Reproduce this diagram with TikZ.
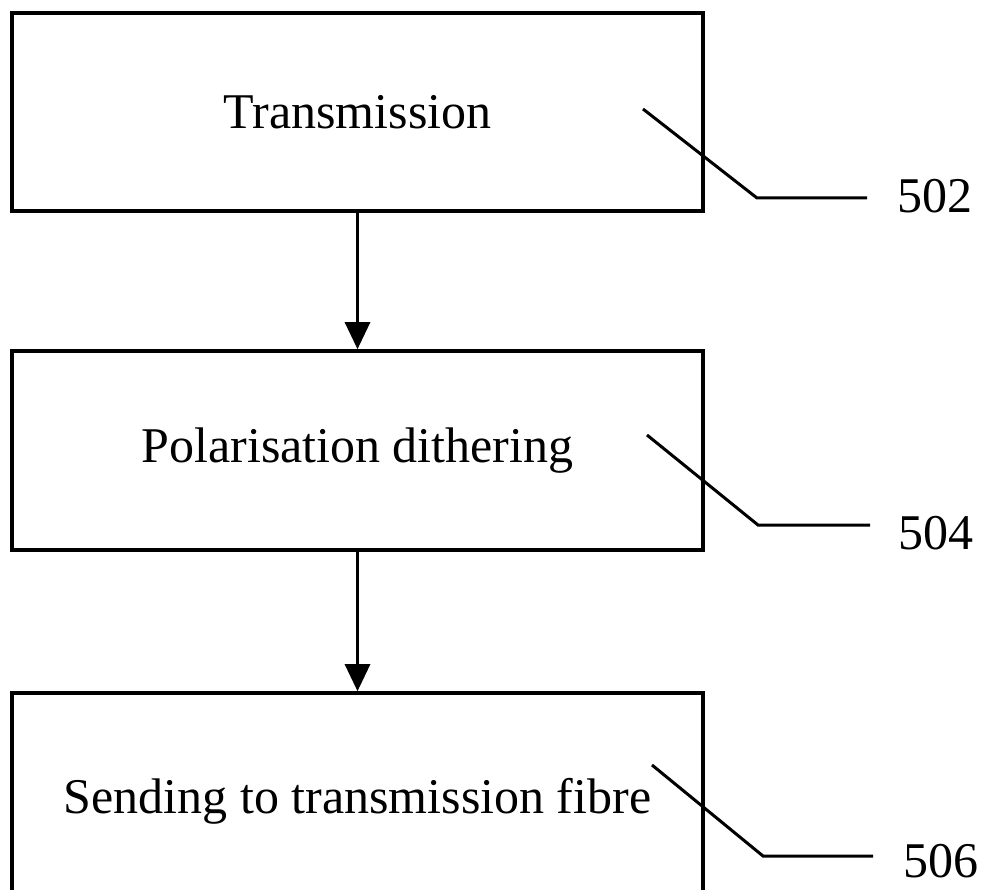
\documentclass[tikz,border=0pt]{standalone}
\usepackage{fontspec}
\setmainfont{Liberation Serif}
\usetikzlibrary{arrows.meta}
\begin{document}
\begin{tikzpicture}[x=1pt,y=-1pt,
  stepbox/.style={draw=black,line width=3.6pt,inner sep=0pt,minimum width=691pt,font=\fontsize{50}{60}\selectfont},
  refnum/.style={anchor=west,inner sep=0pt,font=\fontsize{50}{60}\selectfont},
  leader/.style={line width=3pt},
  flow/.style={line width=3pt,-{Triangle[width=25pt,length=27pt]}}]
\useasboundingbox (0,0) rectangle (981,890);
\clip (0,0) rectangle (981,890);
\node[stepbox,minimum height=198pt] (b1) at (357.5,112) {Transmission};
\node[stepbox,minimum height=199pt] (b2) at (357.5,450.5) {Polarisation dithering};
\node[stepbox,minimum height=217pt] (b3) at (357.5,801.5) {Sending to transmission fibre};
\draw[flow] (b1.south) -- (b2.north);
\draw[flow] (b2.south) -- (b3.north);
% reference numerals
\node[refnum] (n502) at (897,196) {502};
\node[refnum] (n504) at (898,533) {504};
\node[refnum] (n506) at (903,861) {506};
\coordinate (s1) at (643,109);
\coordinate (k1) at (757,198);
\coordinate (e1) at (867,198);
\coordinate (s2) at (647,435);
\coordinate (k2) at (758,525);
\coordinate (e2) at (870,525);
\coordinate (s3) at (652,765);
\coordinate (k3) at (763,856);
\coordinate (e3) at (873,856);
\draw[leader] (s1) -- (k1) -- (e1);
\draw[leader] (s2) -- (k2) -- (e2);
\draw[leader] (s3) -- (k3) -- (e3);
\end{tikzpicture}
\end{document}
